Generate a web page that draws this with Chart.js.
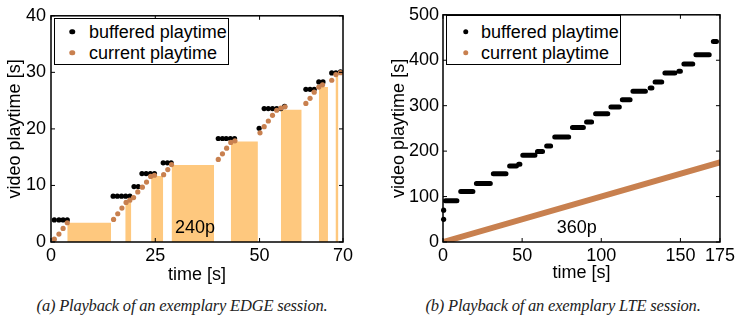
<!DOCTYPE html>
<html>
<head>
<meta charset="utf-8">
<script src="https://cdn.jsdelivr.net/npm/chart.js@4"></script>
<style>
  body { margin: 0; background: #fff; }
  #fig { position: relative; width: 738px; height: 326px; font-family: 'Liberation Sans', Arial, sans-serif; color: #000; }
  canvas { position: absolute; top: 0; }
  #edgeChart { left: 0; }
  #lteChart { left: 370px; }
  .legend { position: absolute; border: 1.5px solid #000; background: #fff; box-sizing: border-box; }
  .dot { position: absolute; width: 5.5px; height: 5.5px; border-radius: 50%; transform: translate(-50%, -50%); }
  .label { position: absolute; font-size: 18px; line-height: 20px; white-space: nowrap; transform: translateY(-50%); }
  .note { position: absolute; font-size: 18px; line-height: 20px; transform: translate(-50%, -50%); }
  .cap { position: absolute; top: 296px; font-family: 'Liberation Serif', serif; font-style: italic; font-size: 16.5px; line-height: 20px; white-space: nowrap; transform: translateX(-50%); color: #222; letter-spacing: -0.2px; }
</style>
</head>
<body>
<div id="fig">
  <canvas id="edgeChart" width="365" height="290"></canvas>
  <canvas id="lteChart" width="368" height="290"></canvas>

  <div class="legend" style="left:54px;top:18px;width:175px;height:47px"></div>
  <span class="dot" style="left:72px;top:31.7px;background:#000"></span>
  <span class="label" style="left:89px;top:31.7px">buffered playtime</span>
  <span class="dot" style="left:72px;top:52.7px;background:#c8804f"></span>
  <span class="label" style="left:89px;top:52.7px">current playtime</span>

  <div class="legend" style="left:446px;top:15px;width:175px;height:50px"></div>
  <span class="dot" style="left:465.7px;top:31.7px;background:#000"></span>
  <span class="label" style="left:481px;top:31.7px">buffered playtime</span>
  <span class="dot" style="left:465.7px;top:52.7px;background:#c8804f"></span>
  <span class="label" style="left:481px;top:52.7px">current playtime</span>

  <span class="note" style="left:195px;top:226.7px">240p</span>
  <span class="note" style="left:576.7px;top:226.7px">360p</span>

  <span class="cap" style="left:182px">(a) Playback of an exemplary EDGE session.</span>
  <span class="cap" style="left:563px">(b) Playback of an exemplary LTE session.</span>
</div>

<script>
// ── Data: (a) EDGE session ─────────────────────────────────────────────────

const EDGE_BUF_T = [0.8, 1.9, 2.9, 3.9, 14.9, 15.9, 16.9, 17.9, 18.9, 19.9, 20.9,
  21.8, 22.8, 23.8, 24.8, 26.9, 27.9, 28.8, 40.1, 41.1, 42.0, 43.0, 44.0, 49.9,
  51.1, 52.1, 53.1, 54.1, 55.1, 56.0, 61.1, 62.1, 63.1, 64.2, 65.2, 67.3, 68.3, 69.4];
const EDGE_BUF_V = [3.9, 3.9, 3.9, 3.9, 8.1, 8.1, 8.1, 8.1, 8.1, 9.8, 9.8,
  12.1, 12.1, 12.1, 12.1, 14.0, 14.0, 14.0, 18.3, 18.3, 18.3, 18.3, 18.3, 20.1,
  23.6, 23.6, 23.6, 23.6, 23.6, 24.0, 27.0, 27.0, 27.0, 28.3, 28.3, 29.9, 29.9, 30.1];

const EDGE_CUR_T = [0.8, 1.9, 2.9, 3.9, 15.0, 16.0, 17.0, 18.0, 18.9, 19.8,
  20.8, 21.9, 22.9, 23.9, 24.8, 27.0, 28.0, 28.9, 40.1, 41.1, 42.1, 43.1, 44.1,
  50.1, 51.1, 52.1, 53.1, 54.1, 55.1, 56.1, 61.1, 62.1, 63.1, 64.2, 65.1, 67.3, 68.3, 69.4];
const EDGE_CUR_V = [0.5, 1.4, 2.4, 3.4, 4.0, 5.0, 6.0, 7.0, 7.4, 7.85,
  8.85, 9.7, 10.6, 11.6, 11.8, 11.9, 12.8, 13.7, 14.6, 15.6, 16.6, 17.6, 17.9,
  19.3, 20.4, 21.4, 22.4, 23.3, 23.7, 23.9, 24.5, 25.4, 26.5, 27.4, 27.8, 28.6, 29.6, 29.95];

// stall periods (shaded)
const EDGE_BAR_START = [3.9, 17.8, 24.0, 28.9, 43.1, 55.1, 64.2, 68.2];
const EDGE_BAR_END   = [14.4, 19.25, 26.9, 39.1, 49.6, 60.1, 66.4, 68.9];
const EDGE_BAR_TOP   = [3.4, 7.0, 11.65, 13.6, 17.75, 23.4, 27.4, 29.7];

const EDGE_X_TICKS = [0, 25, 50, 70];
const EDGE_Y_TICKS = [0, 10, 20, 30, 40];

// ── Data: (b) LTE session ──────────────────────────────────────────────────

const LTE_BUF_START = [1.5, 11.2, 21.1, 31.8, 42.1, 47.8, 50.4, 59.7, 65.5, 70.6, 81.8, 90.7,
  96.4, 106.1, 113.3, 120.0, 130.9, 134.0, 140.2, 149.0, 152.2, 159.8, 170.8];
const LTE_BUF_END = [8.8, 18.9, 29.9, 39.8, 46.4, 48.6, 58.1, 62.9, 68.0, 79.4, 88.7, 93.9,
  104.1, 111.4, 118.2, 127.9, 132.0, 138.2, 146.5, 150.0, 157.8, 168.2, 172.8];
const LTE_BUF_LEVEL = [91, 111, 129, 150, 167, 171, 191, 199, 211, 231, 252, 264,
  282, 297, 313, 332, 339, 352, 372, 376, 392, 412, 441];
const LTE_FIRST_T = [0.4, 0.4];
const LTE_FIRST_V = [50, 70];

const LTE_CUR_T = [0, 175];
const LTE_CUR_V = [0, 175];

const LTE_X_TICKS = [0, 50, 100, 150, 175];
const LTE_Y_TICKS = [0, 100, 200, 300, 400, 500];

// ── Style ──────────────────────────────────────────────────────────────────

const BUF_COLOR = '#000000';
const CUR_COLOR = '#c8804f';
const BAR_COLOR = '#fec87e';

Chart.defaults.font.family = "'Liberation Sans', Arial, sans-serif";
Chart.defaults.font.size = 18;
Chart.defaults.font.weight = 'normal';
Chart.defaults.color = '#000';

const pts = (xs, ys) => xs.map((x, i) => ({ x, y: ys[i] }));

// frame round the plot + inward tick marks on all four sides
const framePlugin = {
  id: 'frame',
  afterDatasetsDraw(chart) {
    const { ctx, chartArea: a, scales: { x, y } } = chart;
    ctx.save();
    ctx.strokeStyle = '#000';
    ctx.lineWidth = 1;
    ctx.beginPath();
    x.ticks.forEach(t => {
      const px = x.getPixelForValue(t.value);
      ctx.moveTo(px, a.bottom); ctx.lineTo(px, a.bottom - 4);
      ctx.moveTo(px, a.top);    ctx.lineTo(px, a.top + 4);
    });
    y.ticks.forEach(t => {
      const py = y.getPixelForValue(t.value);
      ctx.moveTo(a.left, py);  ctx.lineTo(a.left + 4, py);
      ctx.moveTo(a.right, py); ctx.lineTo(a.right - 4, py);
    });
    ctx.stroke();
    ctx.lineWidth = 1.5;
    ctx.strokeRect(a.left, a.top, a.right - a.left, a.bottom - a.top);
    ctx.restore();
  }
};

const makeScales = (cfg) => ({
  x: {
    type: 'linear', min: 0, max: cfg.xMax,
    afterBuildTicks: s => { s.ticks = cfg.xTicks.map(v => ({ value: v })); },
    afterFit: s => { s.height = 48; },
    grid: { display: false, drawTicks: false },
    border: { display: false },
    ticks: { padding: 3, maxRotation: 0, autoSkip: false },
    title: { display: true, text: 'time [s]', font: { weight: 'normal' }, padding: { top: 0, bottom: cfg.xTitlePad } }
  },
  y: {
    type: 'linear', min: 0, max: cfg.yMax,
    afterBuildTicks: s => { s.ticks = cfg.yTicks.map(v => ({ value: v })); },
    afterFit: s => { s.width = cfg.yWidth; },
    grid: { display: false, drawTicks: false },
    border: { display: false },
    ticks: { padding: cfg.yTickPad, autoSkip: false },
    title: { display: true, text: 'video playtime [s]', font: { weight: 'normal' }, padding: { top: cfg.yTitlePad, bottom: 0 } }
  }
});

const baseOptions = (cfg) => ({
  responsive: false,
  animation: false,
  events: [],
  layout: { padding: { top: 14, right: cfg.padRight, left: 0, bottom: 0 } },
  plugins: { legend: { display: false }, tooltip: { enabled: false } },
  scales: makeScales(cfg)
});

// ── (a) EDGE ───────────────────────────────────────────────────────────────

const edgeBars = EDGE_BAR_START.map((s, i) => ({
  data: [{ x: s, y: EDGE_BAR_TOP[i] }, { x: EDGE_BAR_END[i], y: EDGE_BAR_TOP[i] }],
  fill: 'origin',
  backgroundColor: BAR_COLOR,
  borderColor: 'rgba(0,0,0,0)',
  borderWidth: 0,
  pointRadius: 0,
  order: 3
}));

new Chart(document.getElementById('edgeChart'), {
  type: 'line',
  data: {
    datasets: [
      { data: pts(EDGE_CUR_T, EDGE_CUR_V), showLine: false, pointRadius: 2.6, pointBorderWidth: 0,
        pointBackgroundColor: CUR_COLOR, order: 1, clip: 5 },
      { data: pts(EDGE_BUF_T, EDGE_BUF_V), showLine: false, pointRadius: 2.6, pointBorderWidth: 0,
        pointBackgroundColor: BUF_COLOR, order: 2, clip: 5 },
      ...edgeBars
    ]
  },
  options: baseOptions({ xMax: 70, yMax: 40, xTicks: EDGE_X_TICKS, yTicks: EDGE_Y_TICKS,
    yWidth: 51, yTickPad: 5, yTitlePad: 4, xTitlePad: 4, padRight: 22 }),
  plugins: [framePlugin]
});

// ── (b) LTE ────────────────────────────────────────────────────────────────

const lteSegments = [];
LTE_BUF_START.forEach((s, i) => {
  lteSegments.push({ x: s, y: LTE_BUF_LEVEL[i] });
  lteSegments.push({ x: LTE_BUF_END[i], y: LTE_BUF_LEVEL[i] });
  lteSegments.push({ x: LTE_BUF_END[i], y: null });
});

new Chart(document.getElementById('lteChart'), {
  type: 'line',
  data: {
    datasets: [
      { data: pts(LTE_CUR_T, LTE_CUR_V), borderColor: CUR_COLOR, borderWidth: 6,
        borderCapStyle: 'round', pointRadius: 0, order: 1 },
      { data: lteSegments, borderColor: BUF_COLOR, borderWidth: 5, borderCapStyle: 'round',
        spanGaps: false, pointRadius: 0, order: 2 },
      { data: pts(LTE_FIRST_T, LTE_FIRST_V), showLine: false, pointRadius: 2.6, pointBorderWidth: 0,
        pointBackgroundColor: BUF_COLOR, order: 2, clip: 5 }
    ]
  },
  options: baseOptions({ xMax: 175, yMax: 500, xTicks: LTE_X_TICKS, yTicks: LTE_Y_TICKS,
    yWidth: 73, yTickPad: 4, yTitlePad: 18, xTitlePad: 6, padRight: 14 }),
  plugins: [framePlugin]
});
</script>
</body>
</html>
